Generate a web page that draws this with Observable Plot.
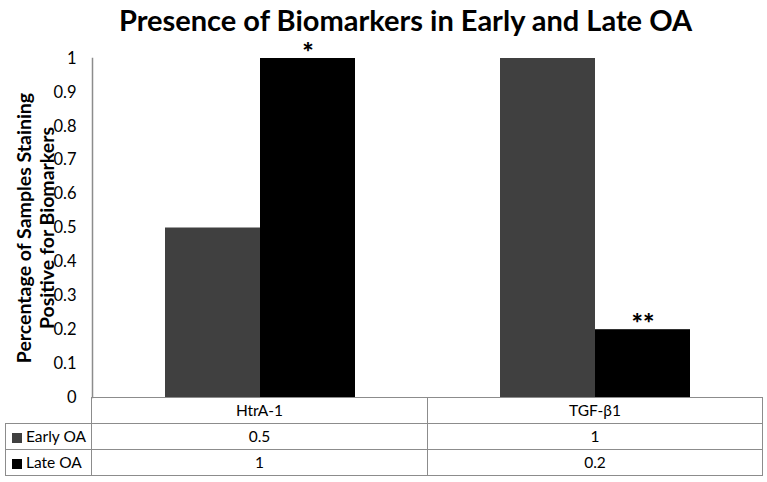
<!DOCTYPE html>
<html><head><meta charset="utf-8">
<script src="https://cdn.jsdelivr.net/npm/d3@7"></script>
<script src="https://cdn.jsdelivr.net/npm/@observablehq/plot@0.6"></script>
<style>
body{margin:0;background:#fff;font-family:Lato,"Open Sans",sans-serif;color:#000;}
#wrap{position:relative;width:767px;height:482px;overflow:hidden;background:#fff;}
#title{position:absolute;left:0;top:0;width:811px;height:40px;text-align:center;font-weight:700;white-space:nowrap;line-height:40px;}
#chart{position:absolute;left:0;top:40px;}
#tbl{position:absolute;left:5px;top:397px;border-collapse:collapse;table-layout:fixed;font-size:15.5px;}
#tbl td{border:1px solid #8c8c8c;height:25px;padding:0;text-align:center;line-height:25px;}
#tbl td.blank{border-top:none;border-left:none;}
#tbl td.lab{text-align:left;padding-left:6px;white-space:nowrap;}
.sw{display:inline-block;width:10px;height:10px;margin-right:4px;vertical-align:-1px;}
</style></head><body>
<div id="wrap"><div id="title"></div><div id="chart"></div><table id="tbl"></table></div>
<script>
const titleText = "Presence of Biomarkers in Early and Late OA";
const categories = ["HtrA-1", "TGF-β1"];
const series = ["Early OA", "Late OA"];
const earlyValues = [0.5, 1];
const lateValues = [1, 0.2];
const lateSignificance = ["*", "**"];
const yTicks = [0, 0.1, 0.2, 0.3, 0.4, 0.5, 0.6, 0.7, 0.8, 0.9, 1];
const tableValues = {"Early OA": ["0.5", "1"], "Late OA": ["1", "0.2"]};
const seriesColors = ["#404040", "#000000"];
const yLabelLines = ["Percentage of Samples Staining", "Positive for Biomarkers"];

const FONT = "Lato, 'Open Sans', sans-serif";

// title, sized to the reference width
const t = document.getElementById("title");
const ctx = document.createElement("canvas").getContext("2d");
ctx.font = "700 100px Lato";
const w = ctx.measureText(titleText).width;
t.style.fontSize = (100 * 575 / w).toFixed(1) + "px";
t.textContent = titleText;

const data = categories.flatMap((c, i) => [
  {category: c, series: series[0], value: earlyValues[i], sig: ""},
  {category: c, series: series[1], value: lateValues[i], sig: lateSignificance[i]}
]);

const plot = Plot.plot({
  width: 767, height: 360,
  marginTop: 18, marginBottom: 3, marginLeft: 91, marginRight: 5,
  fx: {domain: categories, padding: 0, axis: null},
  x: {domain: series, paddingInner: 0, paddingOuter: 0.75, axis: null},
  y: {domain: [0, 1], axis: null},
  color: {domain: series, range: seriesColors},
  style: {fontFamily: FONT, fontSize: "16px", color: "#000", overflow: "visible", background: "transparent"},
  marks: [
    Plot.barY(data, {fx: "category", x: "series", y: "value", fill: "series"}),
    Plot.ruleY([0], {stroke: "#8c8c8c", strokeWidth: 1.2}),
    Plot.frame({anchor: "left", facetAnchor: "left", stroke: "#8c8c8c", strokeWidth: 1.5}),
    Plot.axisY(yTicks, {tickSize: 0, tickPadding: 16, tickFormat: d => String(d), fontSize: 16.5, label: null}),
    Plot.text(data.filter(d => d.sig), {fx: "category", x: "series", y: "value", text: "sig",
      lineAnchor: "bottom", dy: 3, fontSize: 27, fontWeight: "900"}),
    Plot.text([yLabelLines.join("\n")], {fx: () => categories[0], frameAnchor: "left", rotate: -90,
      textAnchor: "middle", lineAnchor: "middle",
      dx: -57.5, fontSize: 19.5, fontWeight: "bold", lineHeight: 1.18})
  ]
});
document.getElementById("chart").appendChild(plot);

// data table
const tbl = document.getElementById("tbl");
const cg = document.createElement("colgroup");
[86, 336, 335].forEach(px => { const c = document.createElement("col"); c.style.width = px + "px"; cg.appendChild(c); });
tbl.appendChild(cg);
const head = tbl.insertRow();
const blank = head.insertCell(); blank.className = "blank";
categories.forEach(c => { head.insertCell().textContent = c; });
series.forEach((s, si) => {
  const r = tbl.insertRow();
  const lab = r.insertCell(); lab.className = "lab";
  const sw = document.createElement("span"); sw.className = "sw"; sw.style.background = seriesColors[si];
  lab.appendChild(sw); lab.appendChild(document.createTextNode(s));
  tableValues[s].forEach(v => { r.insertCell().textContent = v; });
});
</script>
</body></html>
